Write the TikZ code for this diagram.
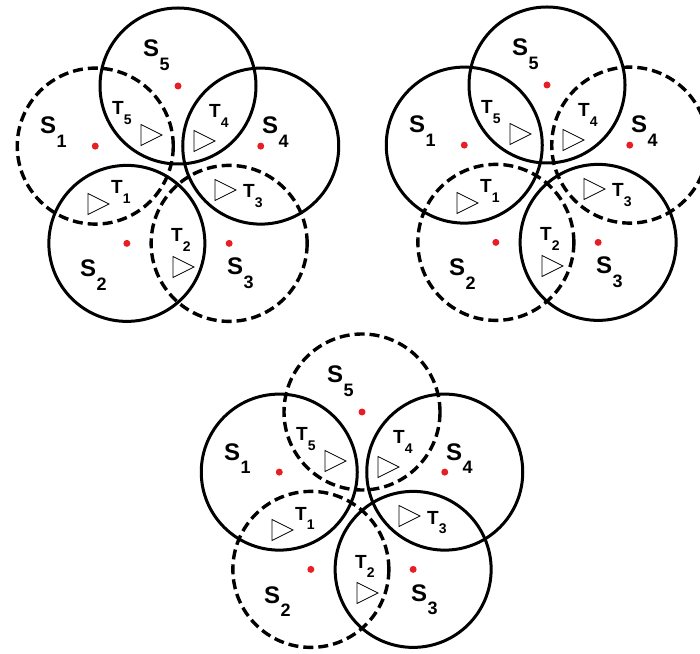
\documentclass[tikz,border=0pt]{standalone}
\usepackage{fontspec}
\setmainfont{Liberation Sans}
\usetikzlibrary{positioning}

\definecolor{dotred}{RGB}{232,30,38}

\newcommand{\slab}[1]{S\kern0.5pt\raisebox{-0.55em}{\fontsize{18}{18}\selectfont #1}}
\newcommand{\tlab}[1]{T\raisebox{-0.5em}{\fontsize{14}{14}\selectfont #1}}

% one ring of five sensors: name prefix, centre, styles of S1..S5
\newcommand{\sensorcluster}[7]{%
  \begin{scope}[shift={(#2)}]
    \node[#3] (#1s1) at (162:87) {};
    \node[#4] (#1s2) at (234:87) {};
    \node[#5] (#1s3) at (306:87) {};
    \node[#6] (#1s4) at (18:87) {};
    \node[#7] (#1s5) at (90:87) {};
    \foreach \k in {1,...,5} \node[dot] at (#1s\k.center) {};
    % sensor labels
    \node[slabel] (#1l1) at (-138,39) {\slab{1}};
    \node[slabel] (#1l2) at (-98,-104) {\slab{2}};
    \node[slabel] (#1l3) at (49,-102) {\slab{3}};
    \node[slabel] (#1l4) at (84,39) {\slab{4}};
    \node[slabel] (#1l5) at (-35,116) {\slab{5}};
    % targets
    \node[tlabel] (#1t1) at (-67,-21) {\tlab{1}};
    \node[tlabel] (#1t2) at (-7,-69) {\tlab{2}};
    \node[tlabel] (#1t3) at (65,-25) {\tlab{3}};
    \node[tlabel] (#1t4) at (31,55) {\tlab{4}};
    \node[tlabel] (#1t5) at (-66,58) {\tlab{5}};
    \foreach \p in {(-80,-31),(5,-94),(47,-17),(26,32),(-27,38)}
      \draw[target] \p ++(-10,10.5) -- ++(21,-10.5) -- ++(-21,-10.5) -- cycle;
  \end{scope}}

\begin{document}
\begin{tikzpicture}[
  x=1pt, y=1pt,
  ring/.style={circle, draw, line width=3pt, minimum size=156pt, inner sep=0pt},
  dashring/.style={ring, line width=3.4pt, dash pattern=on 10pt off 5pt},
  dot/.style={circle, fill=dotred, inner sep=0pt, minimum size=7pt},
  slabel/.style={anchor=base west, inner sep=0pt, font=\fontsize{24}{24}\selectfont\bfseries},
  tlabel/.style={anchor=base west, inner sep=0pt, font=\fontsize{19}{19}\selectfont\bfseries},
  target/.style={line width=0.8pt}
]
  \useasboundingbox (0,0) rectangle (700,653);

  \sensorcluster{a}{178,480}{dashring}{ring}{dashring}{ring}{ring}
  \sensorcluster{b}{547,481}{ring}{dashring}{ring}{dashring}{ring}
  \sensorcluster{c}{362,154}{ring}{dashring}{ring}{ring}{dashring}
\end{tikzpicture}
\end{document}
